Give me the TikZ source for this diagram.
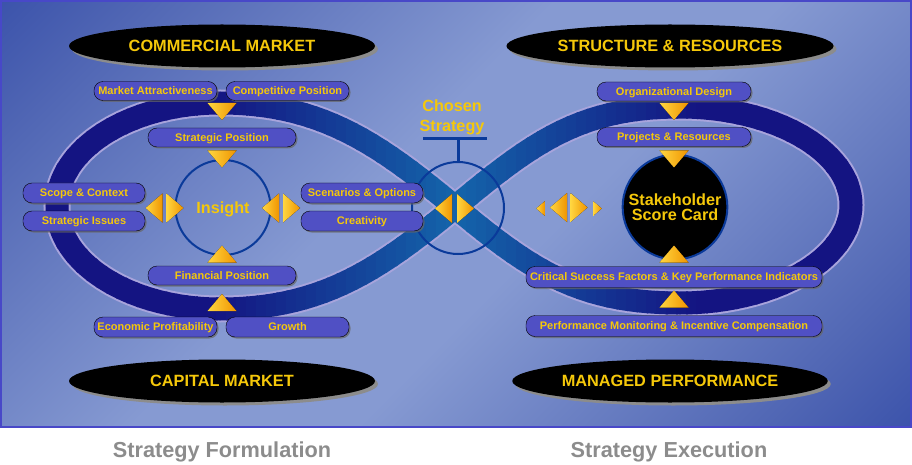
\documentclass[tikz,border=0pt]{standalone}
\usepackage{fontspec}
\setmainfont{Liberation Sans}
\usetikzlibrary{shapes.geometric,shadows}
\definecolor{bgdark}{HTML}{16309A}
\definecolor{bgmid}{HTML}{5066B4}
\definecolor{bglight}{HTML}{869AD2}
\definecolor{framecol}{HTML}{4848C8}
\definecolor{bandnavy}{HTML}{141482}
\definecolor{bandteal}{HTML}{1464AA}
\definecolor{bandedge}{HTML}{A8A4DC}
\definecolor{ringblue}{HTML}{0A3A9A}
\definecolor{boxfill}{HTML}{5050C4}
\definecolor{gold}{HTML}{F5C80A}
\definecolor{triyellow}{HTML}{FFD640}
\definecolor{triorange}{HTML}{F09400}
\definecolor{caption}{HTML}{8C8C8C}
\pgfdeclarehorizontalshading{bgdiag}{100bp}{color(0bp)=(bgdark); color(22bp)=(bgmid); color(44bp)=(bglight); color(56bp)=(bglight); color(78bp)=(bgmid); color(100bp)=(bgdark)}
\tikzset{
  market/.style={ellipse,fill=black,text=gold,minimum width=306pt,minimum height=43pt,
    text height=11.7pt,text depth=0pt,font=\bfseries\fontsize{16.3}{18}\selectfont,
    drop shadow={shadow xshift=3pt,shadow yshift=-3pt,fill=black!45,opacity=1}},
  pill/.style={rounded corners=9pt,draw=black,fill=boxfill,text=gold,inner sep=0pt,
    text height=7.9pt,text depth=0pt,font=\bfseries\fontsize{11}{12}\selectfont,
    drop shadow={shadow xshift=1.5pt,shadow yshift=-1.5pt,fill=black!60,opacity=.7}},
  tri/.style={left color=triyellow,right color=triorange},
  ring/.style={circle,draw=ringblue,line width=2pt},
  big/.style={text=gold,align=center,font=\bfseries\fontsize{16.2}{19.5}\selectfont},
}
\def\eight{(455,207) .. controls (378,143) and (320,103) .. (220,103)
  .. controls (130,103) and (57,149) .. (57,206)
  .. controls (57,263) and (130,309) .. (220,309)
  .. controls (320,309) and (378,271) .. (455,207)
  .. controls (532,143) and (580,107) .. (680,107)
  .. controls (774,107) and (851,151) .. (851,205)
  .. controls (851,259) and (774,303) .. (680,303)
  .. controls (580,303) and (532,271) .. (455,207)}
\begin{document}
\begin{tikzpicture}[x=1pt,y=-1pt]
  \useasboundingbox (0,0) rectangle (912,465);
  \shade[shading=bgdiag,shading angle=-45] (1,1) rectangle (911,427);
  \draw[framecol,line width=1.5pt] (1,1) rectangle (911,427);
  % the band, darker away from the crossing
  \draw[bandedge,line width=27pt] \eight;
  \foreach \i in {0,...,83}{
    \pgfmathsetmacro\xa{36+10*\i}
    \pgfmathtruncatemacro\mix{min(100,abs(\xa+5-455)/2.4)}
    \begin{scope}
      \clip (\xa,0) rectangle (\xa+12,465);
      \draw[bandnavy!\mix!bandteal,line width=23pt] \eight;
    \end{scope}
  }
  % chosen strategy
  \node[ring,minimum size=92pt] (chosen) at (458,208) {};
  \node[big] (cs) at (452,117.5) {Chosen\\Strategy};
  \coordinate (barl) at (423,139);
  \coordinate (barr) at (487,139);
  \draw[ringblue,line width=3pt] (chosen.north) -- (chosen.north |- barl)
       (barl) -- (barr);
  \node[ring,big,minimum size=95pt,text height=11.7pt,text depth=0pt] (insight) at (223,207.5) {Insight};
  \node[ring,big,fill=black,minimum size=96pt,font=\bfseries\fontsize{16.2}{15.4}\selectfont] (card) at (675,207) {Stakeholder\\Score Card};
  \foreach \n/\x/\y/\w/\h/\lbl in {%
    ma/155.5/91/123/19/Market Attractiveness, cp/287.5/91/123/19/Competitive Position,
    sp/222/137.5/148/19/Strategic Position, sc/84/193/122/20/Scope \& Context,
    si/84/221/122/20/Strategic Issues, so/362/193/122/20/Scenarios \& Options,
    cr/362/221/122/20/Creativity, fp/222/275.5/148/19/Financial Position,
    ep/155.5/327/123/20/Economic Profitability, gr/287.5/327/123/20/Growth,
    od/674/91.5/154/19/Organizational Design, pr/674/137/154/19/Projects \& Resources,
    csf/674/277/296/21/Critical Success Factors \& Key Performance Indicators,
    pm/674/326/296/21/Performance Monitoring \& Incentive Compensation}{%
    \node[pill,minimum width=\w pt,minimum height=\h pt] (\n) at (\x,\y) {\lbl};
  }
  \foreach \x/\y/\a/\s in {%
    222/111.5/0/1, 222/159/0/1, 674/111.5/0/1, 674/159/0/1,
    222/254/180/1, 222/302.5/180/1, 674/254/180/1, 674/299/180/1,
    154/208/-90/1, 270.5/208/-90/1, 443.5/208.5/-90/1, 558.5/207.5/-90/1, 540.5/208.5/-90/.5,
    175/208/90/1, 291.5/208/90/1, 465.5/208.5/90/1, 579/207.5/90/1, 597.5/208.5/90/.5}{%
    \fill[tri,shift={(\x,\y)},rotate=\a,scale=\s] (-14.5,-8.5) -- (14.5,-8.5) -- (0,8.5) -- cycle;
  }
  \node[market] (cm) at (222,46) {COMMERCIAL MARKET};
  \node[market] (sr) at (670,46) {STRUCTURE \& RESOURCES};
  \node[market] (cap) at (222,381) {CAPITAL MARKET};
  \node[market] (mp) at (670,381) {MANAGED PERFORMANCE};
  \node[text=caption,font=\bfseries\fontsize{21.7}{24}\selectfont] (sf) at (222,452) {Strategy Formulation};
  \node[text=caption,font=\bfseries\fontsize{21.7}{24}\selectfont] (se) at (669,452) {Strategy Execution};
\end{tikzpicture}
\end{document}
